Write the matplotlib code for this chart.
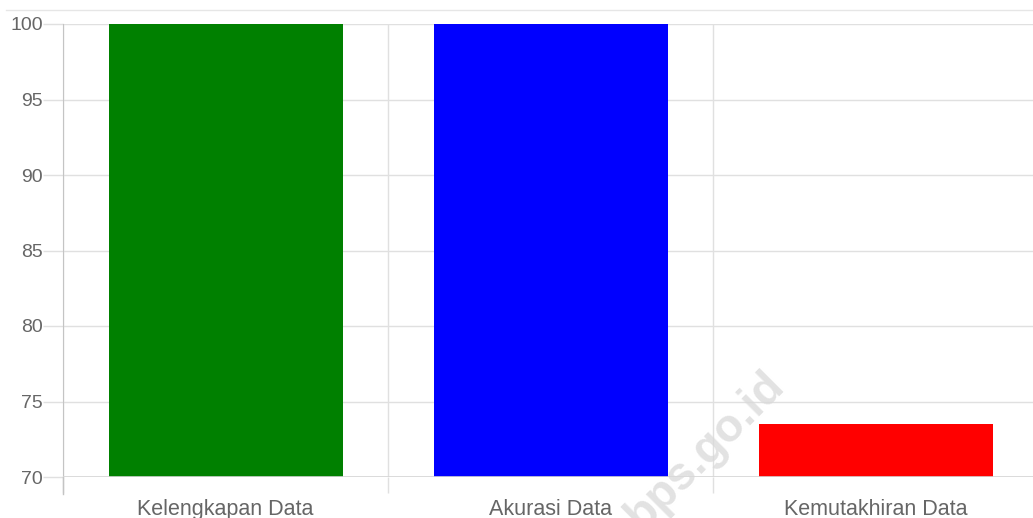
import matplotlib.pyplot as plt
import numpy as np

categories = ['Kelengkapan Data', 'Akurasi Data', 'Kemutakhiran Data']
values = [100, 100, 73.5]
colors = ['#008000', '#0000ff', '#ff0000']

plt.rcParams['font.family'] = ['Liberation Sans', 'DejaVu Sans']

fig = plt.figure(figsize=(10.33, 5.18), dpi=100)
ax = fig.add_axes([63 / 1033, 1 - 477 / 518, 975 / 1033, 453 / 518])

x = np.arange(len(categories))
ax.bar(x, values, width=0.72, color=colors, zorder=2)

ax.set_xlim(-0.5, 2.5)
ax.set_ylim(70, 100)
ax.set_yticks(np.arange(70, 101, 5))

# category labels on major ticks, separators on minor ticks
ax.set_xticks(x)
ax.set_xticklabels(categories)
ax.set_xticks([-0.5, 0.5, 1.5, 2.5], minor=True)
ax.tick_params(axis='x', which='major', length=0, pad=15.5, labelsize=15.5,
               labelcolor='#666666')
ax.tick_params(axis='x', which='minor', length=11.5, width=1, color='#e0e0e0')
ax.tick_params(axis='y', length=14.4, width=1, color='#e0e0e0', pad=0,
               labelsize=14, labelcolor='#666666')

ax.grid(axis='y', color='#e0e0e0', linewidth=1, zorder=0)
ax.grid(axis='x', which='minor', color='#e0e0e0', linewidth=1, zorder=0)

for s in ['top', 'right', 'bottom']:
    ax.spines[s].set_visible(False)
ax.spines['left'].set_color('#c4c4c4')
ax.spines['left'].set_bounds(70, 100)

# left axis continues below the baseline
ax.plot([-0.5, -0.5], [70, 68.9], color='#c4c4c4', lw=1, clip_on=False, zorder=3)
# baseline
ax.axhline(70, color='#d6d6d6', lw=1.2, zorder=3)

# thin rule above the plot
fig.add_artist(plt.Line2D([6 / 1033, 1], [1 - 10 / 518, 1 - 10 / 518],
                          color='#e6e6e6', lw=1))

fig.text(705 / 1033, 1 - 450 / 518, 'bps.go.id', rotation=45, fontsize=33,
         fontweight='bold', color='#d9d9d9', alpha=0.75,
         ha='center', va='center', zorder=5)

fig.savefig('out.png', dpi=100)
